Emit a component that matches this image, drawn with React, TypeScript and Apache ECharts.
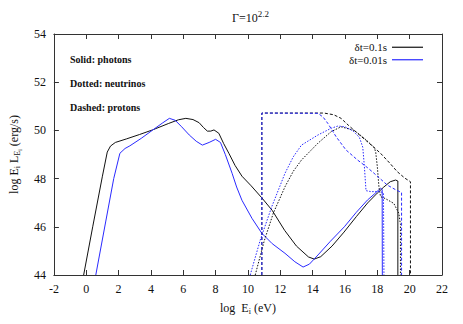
import React, { useEffect, useRef } from "react";
import * as echarts from "echarts";

// ---- data (log E [eV], log E L_E [erg/s]) ----
const photons01: number[][] = [
  [-0.16, 44], [0.4, 46.0], [1.0, 48.1], [1.3, 49.1], [1.5, 49.35], [1.8, 49.5], [2.5, 49.65],
  [3.3, 49.83], [4.1, 50.02], [5.1, 50.29], [5.7, 50.44], [6.16, 50.5], [6.6, 50.45], [6.98, 50.32],
  [7.25, 50.12], [7.49, 49.97], [7.7, 49.97], [7.9, 50.02], [8.2, 49.88], [8.5, 49.45], [8.82, 49.05],
  [9.2, 48.55], [9.63, 48.1], [10.2, 47.7], [10.86, 47.2], [11.5, 46.68], [12.27, 45.85],
  [13.0, 45.2], [13.74, 44.75], [14.1, 44.66], [14.5, 44.76], [15.2, 45.2], [15.94, 45.78],
  [16.7, 46.42], [17.4, 46.99], [18.0, 47.4], [18.4, 47.65], [18.8, 47.87], [19.13, 47.94],
  [19.27, 47.9], [19.27, 44],
];
const photons001: number[][] = [
  [0.59, 44], [1.2, 46.2], [1.7, 48.0], [2.08, 49.05], [2.4, 49.25], [2.7, 49.36], [3.4, 49.67],
  [4.12, 50.02], [4.7, 50.3], [5.14, 50.5], [5.5, 50.42], [5.9, 50.15], [6.37, 49.81], [6.8, 49.55],
  [7.18, 49.39], [7.6, 49.5], [8.0, 49.63], [8.3, 49.5], [8.6, 49.0], [9.02, 48.22], [9.3, 47.65],
  [9.63, 47.1], [10.25, 46.35], [10.86, 45.73], [11.5, 45.3], [12.29, 44.9], [12.9, 44.55],
  [13.41, 44.33], [13.8, 44.45], [14.33, 44.83], [15.1, 45.4], [15.96, 46.0], [16.7, 46.6],
  [17.39, 47.11], [17.8, 47.35], [18.2, 47.6], [18.3, 47.55], [18.31, 44],
];
const neutrinos01: number[][] = [
  [10.45, 44], [11.0, 45.4], [11.57, 46.57], [12.29, 47.66], [12.8, 48.3], [13.31, 48.77],
  [14.33, 49.47], [15.15, 49.95], [15.76, 50.15], [16.57, 50.0], [17.2, 49.67], [17.8, 49.3],
  [17.9, 49.1], [18.0, 48.5], [18.1, 47.66], [18.2, 47.25], [18.5, 47.17], [19.02, 46.97],
  [19.33, 46.56], [19.43, 46.1], [19.43, 44],
];
const neutrinos001: number[][] = [
  [10.14, 44], [10.76, 45.45], [11.47, 46.83], [12.29, 48.22], [12.8, 48.9], [13.31, 49.39],
  [14.33, 49.81], [15.15, 50.09], [15.56, 50.18], [16.0, 50.15], [16.5, 49.98], [16.9, 49.7],
  [17.1, 49.3], [17.2, 48.5], [17.3, 47.5], [17.6, 47.46], [18.2, 47.46], [18.38, 47.4],
  [18.41, 44],
];
const protons01: number[][] = [
  [10.86, 44], [10.86, 50.72], [14.7, 50.72], [15.3, 50.65], [15.76, 50.5], [16.2, 50.22],
  [16.78, 49.88], [17.39, 49.53], [18.2, 49.05], [18.8, 48.62], [19.23, 48.29], [19.7, 48.02],
  [20.05, 47.87], [20.05, 44],
];
const protons001: number[][] = [
  [10.86, 44], [10.86, 50.72], [14.33, 50.71], [14.65, 50.55], [14.94, 50.29], [15.45, 49.74],
  [16.06, 49.19], [16.78, 48.77], [17.4, 48.45], [17.8, 48.22], [18.62, 47.73], [19.1, 47.55],
  [19.5, 47.42], [19.5, 44],
];

const xTicks = { min: -2, max: 22, interval: 2 };
const yTicks = { min: 44, max: 54, interval: 2 };
const legendNames = ["δt=0.1s", "δt=0.01s"];
const notes = ["Solid: photons", "Dotted: neutrinos", "Dashed: protons"];

const SERIF = "'Liberation Serif', 'DejaVu Serif', serif";
const BLACK = "#111111";
const BLUE = "#2a2aff";

export default function App() {
  const ref = useRef<HTMLDivElement>(null);
  useEffect(() => {
    if (!ref.current) return;
    const chart = echarts.init(ref.current, undefined, { renderer: "svg" });
    const axisCommon = {
      type: "value" as const,
      axisLine: { show: true, onZero: false, lineStyle: { color: "#333", width: 1 } },
      axisTick: { show: true, inside: true, length: 5, lineStyle: { color: "#333" } },
      splitLine: { show: false },
    };
    const mk = (name: string, data: number[][], color: string, type: any) => ({
      name,
      type: "line",
      data,
      showSymbol: false,
      symbol: "none",
      smooth: false,
      lineStyle: { color, width: 1, type },
      itemStyle: { color },
      z: 3,
    });
    chart.setOption({
      animation: false,
      textStyle: { fontFamily: SERIF },
      title: {
        text: "{a|Γ=10}{s|2.2}",
        left: 227,
        top: 4,
        textStyle: {
          rich: {
            a: { fontFamily: SERIF, fontSize: 12, fontWeight: "normal", color: "#111" },
            s: { fontFamily: SERIF, fontSize: 9, fontWeight: "normal", color: "#111", padding: [0, 0, 9, 0] },
          },
        },
      },
      legend: {
        data: legendNames,
        orient: "vertical",
        right: 35,
        top: 36,
        align: "right",
        icon: "rect",
        itemWidth: 31,
        itemHeight: 1.2,
        itemGap: 0,
        textStyle: { fontFamily: SERIF, fontSize: 11, lineHeight: 12.5, color: "#111" },
      },
      grid: { left: 50, right: 21, top: 34, bottom: 49, containLabel: false },
      xAxis: [
        {
          ...axisCommon,
          ...xTicks,
          position: "bottom",
          axisLabel: { fontFamily: SERIF, fontSize: 12, color: "#111", margin: 8 },
          name: "{n|log  E}{b|i}{n| (eV)}",
          nameLocation: "middle",
          nameGap: 25,
          nameTextStyle: {
            rich: {
              n: { fontFamily: SERIF, fontSize: 12, color: "#111" },
              b: { fontFamily: SERIF, fontSize: 8, color: "#111", padding: [7, 0, 0, 0] },
            },
          },
        },
        { ...axisCommon, ...xTicks, position: "top", axisLabel: { show: false } },
      ],
      yAxis: [
        {
          ...axisCommon,
          ...yTicks,
          position: "left",
          axisLabel: { fontFamily: SERIF, fontSize: 12, color: "#111", margin: 8 },
          name: "{n|log E}{b|i}{n| L}{b|E}{c|i}{n| (erg/s)}",
          nameLocation: "middle",
          nameGap: 30,
          nameRotate: 90,
          nameTextStyle: {
            rich: {
              n: { fontFamily: SERIF, fontSize: 12, color: "#111" },
              b: { fontFamily: SERIF, fontSize: 8, color: "#111", padding: [7, 0, 0, 0] },
              c: { fontFamily: SERIF, fontSize: 6, color: "#111", padding: [12, 0, 0, 0] },
            },
          },
        },
        { ...axisCommon, ...yTicks, position: "right", axisLabel: { show: false } },
      ],
      graphic: notes.map((t, i) => ({
        type: "text",
        left: 70,
        top: 54 + i * 24,
        style: { text: t, fontFamily: SERIF, fontSize: 10, fontWeight: "bold", fill: "#111" },
      })),
      series: [
        mk("δt=0.1s", photons01, BLACK, "solid"),
        mk("δt=0.01s", photons001, BLUE, "solid"),
        mk("neutrinos δt=0.1s", neutrinos01, BLACK, [1.5, 1.5]),
        mk("neutrinos δt=0.01s", neutrinos001, BLUE, [1.5, 1.5]),
        mk("protons δt=0.1s", protons01, BLACK, [3, 2]),
        mk("protons δt=0.01s", protons001, BLUE, [3, 2]),
      ],
    });
    return () => chart.dispose();
  }, []);
  return <div ref={ref} style={{ position: "absolute", left: 0, top: 0, width: 463, height: 324 }} />;
}
